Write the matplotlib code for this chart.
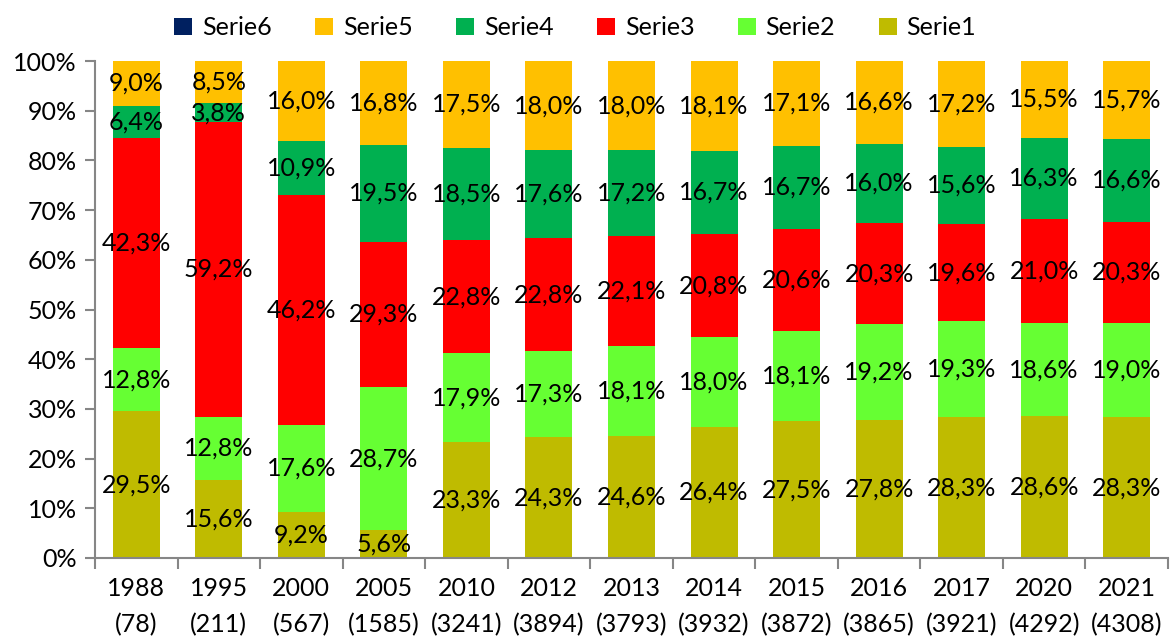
import numpy as np
import matplotlib.pyplot as plt

plt.rcParams['font.family'] = ['Lato', 'DejaVu Sans']

years = ['1988', '1995', '2000', '2005', '2010', '2012', '2013',
         '2014', '2015', '2016', '2017', '2020', '2021']
counts = ['78', '211', '567', '1585', '3241', '3894', '3793',
          '3932', '3872', '3865', '3921', '4292', '4308']

serie1 = [29.5, 15.6, 9.2, 5.6, 23.3, 24.3, 24.6, 26.4, 27.5, 27.8, 28.3, 28.6, 28.3]
serie2 = [12.8, 12.8, 17.6, 28.7, 17.9, 17.3, 18.1, 18.0, 18.1, 19.2, 19.3, 18.6, 19.0]
serie3 = [42.3, 59.2, 46.2, 29.3, 22.8, 22.8, 22.1, 20.8, 20.6, 20.3, 19.6, 21.0, 20.3]
serie4 = [6.4, 3.8, 10.9, 19.5, 18.5, 17.6, 17.2, 16.7, 16.7, 16.0, 15.6, 16.3, 16.6]
serie5 = [9.0, 8.5, 16.0, 16.8, 17.5, 18.0, 18.0, 18.1, 17.1, 16.6, 17.2, 15.5, 15.7]
serie6 = [0] * 13

series = [serie1, serie2, serie3, serie4, serie5, serie6]
names = ['Serie1', 'Serie2', 'Serie3', 'Serie4', 'Serie5', 'Serie6']
colors = ['#BFBB00', '#66FF33', '#FF0000', '#00B050', '#FFC000', '#002060']

data = np.array(series, dtype=float)
shares = data / data.sum(axis=0) * 100

fig = plt.figure(figsize=(11.74, 6.41), dpi=100)
ax = fig.add_axes([0.0809, 0.1295, 0.914, 0.7753])

fs = 18
x = np.arange(len(years))
bottom = np.zeros(len(years))
handles = []
for k in range(len(series)):
    h = ax.bar(x, shares[k], 0.57, bottom=bottom, color=colors[k], label=names[k])
    handles.append(h)
    if k < 5:
        for i in range(len(years)):
            ax.text(x[i], bottom[i] + shares[k][i] / 2,
                    ('%.1f%%' % data[k][i]).replace('.', ','),
                    ha='center', va='center', fontsize=fs)
    bottom += shares[k]

ax.set_xlim(-0.5, len(years) - 0.5)
ax.set_ylim(0, 100)
ax.set_yticks(np.arange(0, 101, 10))
ax.set_yticklabels(['%d%%' % v for v in range(0, 101, 10)], fontsize=fs)
ax.set_xticks(x)
ax.set_xticklabels([y + '\n(' + c + ')' for y, c in zip(years, counts)],
                   fontsize=fs, linespacing=1.65)
ax.tick_params(axis='x', length=0, pad=14)
ax.set_xticks(np.arange(-0.5, len(years), 1), minor=True)
ax.tick_params(axis='x', which='minor', length=8, color='#868686', width=1.5)
ax.tick_params(axis='y', length=7, color='#868686', width=1.5, pad=6)

for s in ['top', 'right']:
    ax.spines[s].set_visible(False)
for s in ['left', 'bottom']:
    ax.spines[s].set_color('#868686')
    ax.spines[s].set_linewidth(1.5)

fig.legend(handles[::-1], names[::-1], loc='upper center', ncol=6,
           bbox_to_anchor=(0.49, 1.01), frameon=False, fontsize=fs,
           handlelength=0.7, handleheight=0.7, handletextpad=0.4,
           columnspacing=1.75)

fig.savefig('out.png', dpi=100)
